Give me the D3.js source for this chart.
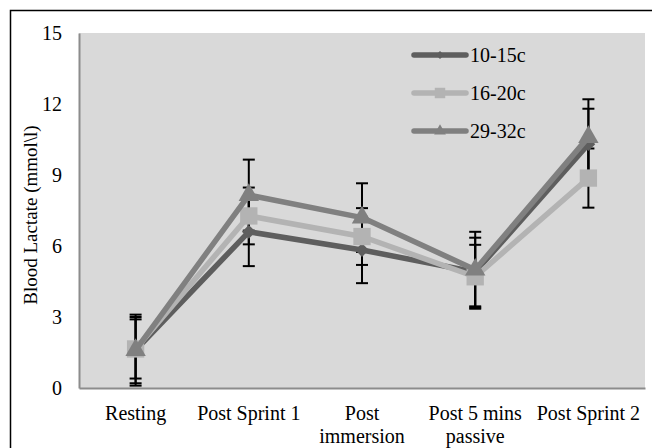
<!DOCTYPE html>
<html>
<head>
<meta charset="utf-8">
<script src="https://cdn.jsdelivr.net/npm/d3@7"></script>
<style>
  body { margin: 0; background: #fff; }
</style>
</head>
<body>
<div id="chart"></div>
<script>
(function () {
    'use strict';

    // data
    var categories = [["Resting"], ["Post Sprint 1"], ["Post", "immersion"], ["Post 5 mins", "passive"], ["Post Sprint 2"]];
    var seriesNames = ["10-15c", "16-20c", "29-32c"];
    var cold = [1.6, 6.6, 5.83, 4.9, 10.3];
    var cool = [1.65, 7.27, 6.4, 4.7, 8.87];
    var warm = [1.6, 8.15, 7.2, 5.0, 10.6];
    var coldErr = [1.4, 1.45, 1.4, 1.45, 1.5];
    var coolErr = [1.25, 1.2, 1.2, 1.35, 1.25];
    var warmErr = [1.5, 1.5, 1.45, 1.6, 1.6];
    var yTicks = [0, 3, 6, 9, 12, 15];

    var WIDTH = 652;
    var HEIGHT = 448;
    var FONT = "Liberation Serif";
    var margin = {top: 33, right: 7, bottom: 60, left: 79};

    var series = [
        {name: seriesNames[0], values: cold, err: coldErr, color: "#5e5e5e", shape: d3.symbolDiamond2, size: 120, lsize: 40},
        {name: seriesNames[1], values: cool, err: coolErr, color: "#b3b3b3", shape: d3.symbolSquare, size: 300, lsize: 110},
        {name: seriesNames[2], values: warm, err: warmErr, color: "#808080", shape: d3.symbolTriangle, size: 180, lsize: 60}
    ];

    var svg = d3.select("#chart").append("svg")
        .attr("width", WIDTH)
        .attr("height", HEIGHT)
        .attr("font-family", FONT);

    // outer frame
    svg.append("rect")
        .attr("x", 10.5).attr("y", 10.5)
        .attr("width", 650).attr("height", 450)
        .attr("fill", "none").attr("stroke", "#000").attr("stroke-width", 1.5);

    var x = d3.scaleBand()
        .domain(d3.range(categories.length))
        .range([margin.left, WIDTH - margin.right]);

    var y = d3.scaleLinear()
        .domain([0, 15])
        .range([HEIGHT - margin.bottom, margin.top]);

    var cx = function (i) { return x(i) + x.bandwidth() / 2; };

    // plot area
    svg.append("rect")
        .attr("x", margin.left).attr("y", margin.top)
        .attr("width", WIDTH - margin.right - margin.left)
        .attr("height", HEIGHT - margin.bottom - margin.top)
        .attr("fill", "#d9d9d9");

    // y axis
    var yAxis = svg.append("g")
        .attr("transform", "translate(" + margin.left + ",0)")
        .call(d3.axisLeft(y).tickValues(yTicks).tickSize(0).tickPadding(17));
    yAxis.attr("font-family", FONT).attr("font-size", 20);
    yAxis.select(".domain").attr("stroke", "#8c8c8c").attr("stroke-width", 2);
    yAxis.selectAll("text").attr("fill", "#000");

    // x axis
    var xAxis = svg.append("g")
        .attr("transform", "translate(0," + (HEIGHT - margin.bottom) + ")")
        .call(d3.axisBottom(x).tickSize(0).tickFormat(""));
    xAxis.attr("font-family", FONT).attr("font-size", 20);
    xAxis.select(".domain").attr("stroke", "#8c8c8c").attr("stroke-width", 2);
    xAxis.selectAll(".tick").each(function (d) {
        var t = d3.select(this).append("text")
            .attr("text-anchor", "middle")
            .attr("fill", "#000");
        categories[d].forEach(function (line, k) {
            t.append("tspan").attr("x", 0).attr("y", 32 + k * 23).text(line);
        });
    });

    // y title
    svg.append("text")
        .attr("transform", "translate(37,215) rotate(-90)")
        .attr("text-anchor", "middle")
        .attr("font-size", 19)
        .text("Blood Lactate (mmol\\l)");

    // error bars
    var capW = 6;
    series.forEach(function (s) {
        var g = svg.append("g").attr("stroke", "#000").attr("stroke-width", 2);
        s.values.forEach(function (v, i) {
            var hi = y(v + s.err[i]), lo = y(v - s.err[i]);
            g.append("line").attr("x1", cx(i)).attr("x2", cx(i)).attr("y1", hi).attr("y2", lo);
            g.append("line").attr("x1", cx(i) - capW).attr("x2", cx(i) + capW).attr("y1", hi).attr("y2", hi);
            g.append("line").attr("x1", cx(i) - capW).attr("x2", cx(i) + capW).attr("y1", lo).attr("y2", lo);
        });
    });

    var line = d3.line()
        .x(function (d, i) { return cx(i); })
        .y(function (d) { return y(d); });

    series.forEach(function (s) {
        svg.append("path")
            .datum(s.values)
            .attr("d", line)
            .attr("fill", "none")
            .attr("stroke", s.color)
            .attr("stroke-width", 5.5)
            .attr("stroke-linejoin", "round");
        svg.selectAll(null)
            .data(s.values)
            .enter()
            .append("path")
            .attr("transform", function (d, i) { return "translate(" + cx(i) + "," + y(d) + ")"; })
            .attr("d", d3.symbol().type(s.shape).size(s.size))
            .attr("fill", s.color);
    });

    // legend
    var legend = svg.append("g");
    series.forEach(function (s, k) {
        var ly = 55 + k * 38;
        legend.append("line")
            .attr("x1", 414).attr("x2", 466).attr("y1", ly).attr("y2", ly)
            .attr("stroke", s.color).attr("stroke-width", 5.5).attr("stroke-linecap", "round");
        legend.append("path")
            .attr("transform", "translate(440," + ly + ")")
            .attr("d", d3.symbol().type(s.shape).size(s.lsize))
            .attr("fill", s.color);
        legend.append("text")
            .attr("x", 470).attr("y", ly + 7)
            .attr("font-size", 20)
            .text(s.name);
    });
})();
</script>
</body>
</html>
